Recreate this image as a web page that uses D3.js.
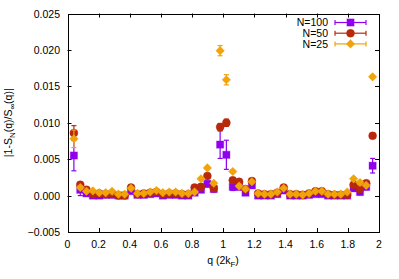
<!DOCTYPE html>
<head>
<meta charset="utf-8">
<style>
body { margin: 0; background: #fff; }
text { font-family: "Liberation Sans", Arial, sans-serif; font-size: 10.5px; fill: #000; }
</style>
</head>
<body>
<script src="https://cdn.jsdelivr.net/npm/d3@7"></script>
<script>
// q in units of 2kF
var q = [0.041,0.082,0.122,0.163,0.204,0.245,0.286,0.327,0.367,0.408,
         0.449,0.490,0.531,0.571,0.612,0.653,0.694,0.735,0.776,0.816,
         0.857,0.898,0.939,0.980,1.020,1.061,1.102,1.143,1.184,1.224,
         1.265,1.306,1.347,1.388,1.429,1.469,1.510,1.551,1.592,1.633,
         1.673,1.714,1.755,1.796,1.837,1.878,1.918,1.959];

var n100 = [0.0055,0.0008,0.0003,0.0000,0.0000,0.0001,0.0001,0.0000,0.0000,0.0006,
            0.0001,0.0001,0.0002,0.0003,0.0000,0.0001,0.0001,0.0000,0.0000,0.0004,
            0.0008,0.0016,0.0009,0.0070,0.0056,0.0012,0.0012,0.0004,0.0014,0.0000,
            0.0000,0.0000,0.0002,0.0007,0.0000,0.0000,0.0000,0.0001,0.0002,0.0002,
            0.0000,0.0000,0.0000,0.0000,0.0010,0.0005,0.0012,0.0041];
var n100err = [0.0021,0.0008,0.0004,0.0002,0.0002,0.0002,0.0002,0.0002,0.0002,0.0003,
               0.0002,0.0002,0.0002,0.0002,0.0002,0.0002,0.0002,0.0002,0.0002,0.0003,
               0.0003,0.0004,0.0004,0.0019,0.0020,0.0005,0.0004,0.0003,0.0004,0.0002,
               0.0002,0.0002,0.0002,0.0003,0.0002,0.0002,0.0002,0.0002,0.0002,0.0002,
               0.0002,0.0002,0.0002,0.0003,0.0004,0.0004,0.0004,0.0010];

var n50 = [0.0086,0.0015,0.0008,0.0002,0.0003,0.0002,0.0003,0.0000,0.0000,0.0011,
           0.0002,0.0003,0.0004,0.0005,0.0002,0.0003,0.0003,0.0002,0.0002,0.0011,
           0.0012,0.0027,0.0010,0.0094,0.0100,0.0021,0.0019,0.0009,0.0020,0.0003,
           0.0002,0.0002,0.0004,0.0011,0.0002,0.0002,0.0001,0.0003,0.0006,0.0006,
           0.0002,0.0001,0.0001,0.0001,0.0015,0.0009,0.0017,0.0082];
var n50err = [0.0010,0.0003,0.0001,0.0001,0.0001,0.0001,0.0001,0.0001,0.0001,0.0001,
              0.0001,0.0001,0.0001,0.0001,0.0001,0.0001,0.0001,0.0001,0.0001,0.0001,
              0.0001,0.0002,0.0002,0.0005,0.0005,0.0002,0.0002,0.0001,0.0002,0.0001,
              0.0001,0.0001,0.0001,0.0001,0.0001,0.0001,0.0001,0.0001,0.0001,0.0001,
              0.0001,0.0001,0.0001,0.0001,0.0002,0.0002,0.0002,0.0002];

var n25 = [0.0078,0.0011,0.0006,0.00065,0.0004,0.0004,0.0006,0.0002,0.0002,0.0010,
           0.0003,0.0003,0.0005,0.0007,0.0004,0.0005,0.0005,0.0003,0.0003,0.0005,
           0.0023,0.0038,0.0017,0.0199,0.0159,0.0033,0.0013,0.0009,0.0019,0.0003,
           0.0002,0.0002,0.0005,0.0010,0.0002,0.0002,0.0001,0.0003,0.0006,0.0006,
           0.0002,0.0002,0.0002,0.0005,0.0023,0.0018,0.0014,0.0163];
var n25err = [0.0012,0.0002,0.0001,0.0001,0.0001,0.0001,0.0001,0.0001,0.0001,0.0001,
              0.0001,0.0001,0.0001,0.0001,0.0001,0.0001,0.0001,0.0001,0.0001,0.0001,
              0.0001,0.0002,0.0002,0.0007,0.0007,0.0002,0.0001,0.0001,0.0001,0.0001,
              0.0001,0.0001,0.0001,0.0001,0.0001,0.0001,0.0001,0.0001,0.0001,0.0001,
              0.0001,0.0001,0.0001,0.0001,0.0002,0.0002,0.0001,0.0002];

var xTicks = [0,0.2,0.4,0.6,0.8,1,1.2,1.4,1.6,1.8,2];
var yTicks = [-0.005,0,0.005,0.01,0.015,0.02,0.025];

var series = [
  {name: "N=100", vals: n100, err: n100err, color: "#9000ee", shape: "square"},
  {name: "N=50",  vals: n50,  err: n50err,  color: "#b8290b", shape: "circle"},
  {name: "N=25",  vals: n25,  err: n25err,  color: "#f0a30a", shape: "diamond"}
];

var W = 399, H = 279;
var L = 67.5, R = 379, T = 13.5, B = 232;

var svg = d3.select("body").append("svg")
  .attr("width", W)
  .attr("height", H);

var x = d3.scaleLinear().domain([0, 2]).range([L, R]);
var y = d3.scaleLinear().domain([-0.005, 0.025]).range([B, T]);

// ticks on all four sides, pointing in
var tl = 4;
var g = svg.append("g").attr("stroke", "#000").attr("stroke-width", 1);
xTicks.forEach(function(t) {
  if (t === 0 || t === 2) return;
  var px = Math.round(x(t)) + 0.5;
  g.append("line").attr("x1", px).attr("x2", px).attr("y1", B).attr("y2", B - tl);
  g.append("line").attr("x1", px).attr("x2", px).attr("y1", T).attr("y2", T + tl);
});
yTicks.forEach(function(t) {
  if (t === -0.005 || t === 0.025) return;
  var py = Math.round(y(t)) + 0.5;
  g.append("line").attr("x1", L).attr("x2", L + tl).attr("y1", py).attr("y2", py);
  g.append("line").attr("x1", R).attr("x2", R - tl).attr("y1", py).attr("y2", py);
});

svg.append("rect")
  .attr("x", Math.round(L) + 0.5).attr("y", Math.round(T) + 0.5)
  .attr("width", Math.round(R) - Math.round(L)).attr("height", Math.round(B) - Math.round(T))
  .attr("fill", "none").attr("stroke", "#000").attr("stroke-width", 1);

// tick labels
svg.selectAll(".xl").data(xTicks).enter().append("text")
  .attr("x", function(d) { return x(d); })
  .attr("y", 247.5)
  .attr("text-anchor", "middle")
  .text(function(d) { return String(+d.toFixed(1)); });

svg.selectAll(".yl").data(yTicks).enter().append("text")
  .attr("x", 60)
  .attr("y", function(d) { return y(d) + 4; })
  .attr("text-anchor", "end")
  .text(function(d) { return d3.format(".3f")(d); });

// axis labels
var xl = svg.append("text").attr("x", 223).attr("y", 264).attr("text-anchor", "middle");
xl.append("tspan").text("q (2k");
xl.append("tspan").attr("dy", 3).style("font-size", "8px").text("F");
xl.append("tspan").attr("dy", -3).text(")");

var yl = svg.append("text")
  .attr("transform", "translate(12," + ((T + B) / 2) + ") rotate(-90)")
  .attr("text-anchor", "middle");
yl.append("tspan").text("|1-S");
yl.append("tspan").attr("dy", 3).style("font-size", "8px").text("N");
yl.append("tspan").attr("dy", -3).text("(q)/S");
yl.append("tspan").attr("dy", 3).style("font-size", "8px").text("\u221e");
yl.append("tspan").attr("dy", -3).text("(q)|");

function marker(sel, shape, color) {
  if (shape === "square") {
    sel.append("rect").attr("x", -3.6).attr("y", -3.6).attr("width", 7.2).attr("height", 7.2)
      .attr("fill", color).attr("stroke", color).attr("stroke-opacity", 0.35).attr("stroke-width", 1);
  } else if (shape === "circle") {
    sel.append("circle").attr("r", 4).attr("fill", color)
      .attr("stroke", color).attr("stroke-opacity", 0.35).attr("stroke-width", 1);
  } else {
    sel.append("path").attr("d", "M0,-4.3L4.3,0L0,4.3L-4.3,0Z").attr("fill", color)
      .attr("stroke", color).attr("stroke-opacity", 0.35).attr("stroke-width", 1);
  }
}

var plot = svg.append("g");
series.forEach(function(s) {
  var pts = q.map(function(d, i) { return {q: d, v: s.vals[i], e: s.err[i]}; });
  var gs = plot.append("g");
  var eb = gs.selectAll(".eb").data(pts).enter().append("g")
    .attr("stroke", s.color).attr("stroke-width", 1.2);
  eb.append("line")
    .attr("x1", function(d) { return x(d.q); }).attr("x2", function(d) { return x(d.q); })
    .attr("y1", function(d) { return y(d.v - d.e); }).attr("y2", function(d) { return y(d.v + d.e); });
  [-1, 1].forEach(function(sg) {
    eb.append("line")
      .attr("x1", function(d) { return x(d.q) - 2.5; }).attr("x2", function(d) { return x(d.q) + 2.5; })
      .attr("y1", function(d) { return y(d.v + sg * d.e); }).attr("y2", function(d) { return y(d.v + sg * d.e); });
  });
  gs.selectAll(".pt").data(pts).enter().append("g")
    .attr("transform", function(d) { return "translate(" + x(d.q) + "," + y(d.v) + ")"; })
    .each(function() { marker(d3.select(this), s.shape, s.color); });
});

// legend
var leg = svg.append("g");
series.forEach(function(s, i) {
  var ly = 22.5 + i * 10.7;
  leg.append("text").attr("x", 328).attr("y", ly + 3.8).attr("text-anchor", "end").text(s.name);
  var lg = leg.append("g").attr("stroke", s.color).attr("stroke-width", 1.2);
  lg.append("line").attr("x1", 335).attr("x2", 366).attr("y1", ly).attr("y2", ly);
  lg.append("line").attr("x1", 335).attr("x2", 335).attr("y1", ly - 2.5).attr("y2", ly + 2.5);
  lg.append("line").attr("x1", 366).attr("x2", 366).attr("y1", ly - 2.5).attr("y2", ly + 2.5);
  var mg = leg.append("g").attr("transform", "translate(350.5," + ly + ")");
  marker(mg, s.shape, s.color);
});
</script>
</body>
